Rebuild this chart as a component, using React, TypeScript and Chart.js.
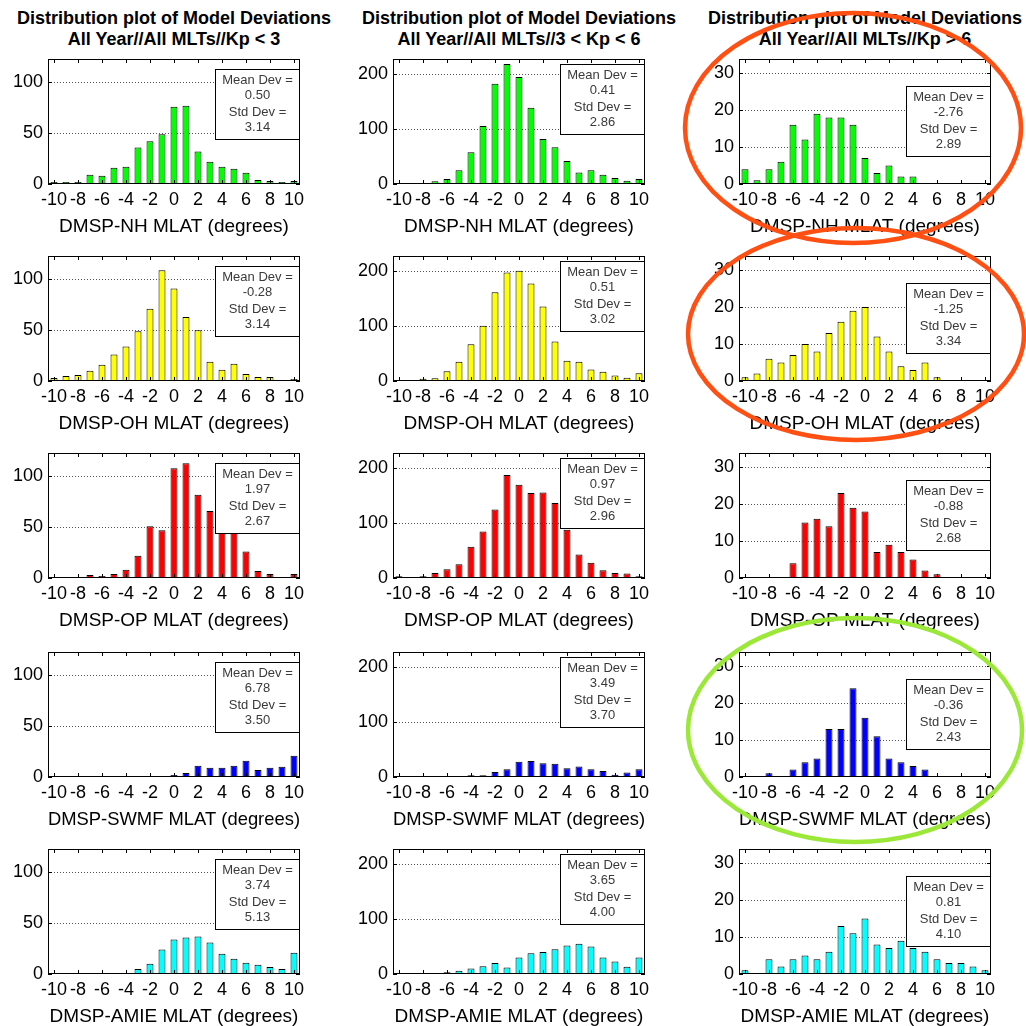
import React, { useEffect, useRef } from 'react';
import { Chart, registerables } from 'chart.js';

Chart.register(...registerables);

// ---------------- data ----------------
const BINS = ['-10', '-9', '-8', '-7', '-6', '-5', '-4', '-3', '-2', '-1', '0', '1', '2', '3', '4', '5', '6', '7', '8', '9', '10'];
const X_TICK_LABELS = ['-10', '-8', '-6', '-4', '-2', '0', '2', '4', '6', '8', '10'];

const COLUMN_TITLE_1 = 'Distribution plot of Model Deviations';
const COLUMN_TITLE_2 = ['All Year//All MLTs//Kp < 3', 'All Year//All MLTs//3 < Kp < 6', 'All Year//All MLTs//Kp > 6'];
const ROW_AXIS_TITLES = ['DMSP-NH MLAT (degrees)', 'DMSP-OH MLAT (degrees)', 'DMSP-OP MLAT (degrees)', 'DMSP-SWMF MLAT (degrees)', 'DMSP-AMIE MLAT (degrees)'];

const Y_MAX = [123, 228, 33.8];
const Y_STEP = [50, 100, 10];
const Y_TICKS = [[0, 50, 100], [0, 100, 200], [0, 10, 20, 30]];

const NH_KP_LT3 = [2, 2, 2, 9, 8, 16, 17, 36, 42, 49, 76, 77, 32, 22, 17, 15, 11, 4, 3, 2, 3];
const NH_KP_3TO6 = [0, 0, 1, 5, 9, 25, 58, 106, 183, 219, 195, 139, 82, 67, 42, 21, 25, 17, 11, 6, 9];
const NH_KP_GT6 = [4, 1, 4, 6, 16, 12, 19, 18, 18, 16, 7, 3, 5, 2, 2, 0, 0, 0, 0, 0, 0];

const OH_KP_LT3 = [3, 5, 6, 10, 16, 26, 34, 49, 71, 109, 91, 63, 50, 19, 11, 17, 7, 4, 4, 1, 2];
const OH_KP_3TO6 = [1, 2, 4, 5, 18, 35, 67, 101, 162, 198, 201, 178, 136, 72, 37, 35, 21, 17, 10, 6, 14];
const OH_KP_GT6 = [1, 2, 6, 5, 7, 10, 8, 13, 16, 19, 20, 12, 8, 4, 3, 5, 1, 0, 0, 0, 0];

const OP_KP_LT3 = [0, 0, 0, 3, 2, 4, 8, 22, 51, 47, 108, 113, 82, 66, 56, 47, 26, 7, 4, 0, 4];
const OP_KP_3TO6 = [3, 0, 3, 9, 16, 25, 57, 85, 125, 188, 170, 155, 156, 137, 88, 43, 28, 14, 9, 8, 3];
const OP_KP_GT6 = [0, 0, 0, 0, 4, 15, 16, 14, 23, 19, 18, 7, 9, 7, 5, 2, 1, 0, 0, 0, 0];

const SWMF_KP_LT3 = [0, 0, 0, 0, 0, 0, 0, 0, 0, 1, 2, 4, 11, 9, 9, 11, 16, 7, 9, 10, 21];
const SWMF_KP_3TO6 = [0, 0, 0, 0, 0, 1, 3, 3, 9, 14, 28, 29, 25, 24, 16, 19, 14, 11, 4, 8, 14];
const SWMF_KP_GT6 = [0, 0, 1, 0, 2, 4, 5, 13, 13, 24, 16, 11, 5, 4, 3, 2, 0, 0, 0, 0, 0];

const AMIE_KP_LT3 = [0, 0, 0, 0, 1, 1, 1, 5, 10, 24, 34, 36, 37, 31, 20, 15, 11, 9, 7, 5, 21];
const AMIE_KP_3TO6 = [0, 0, 0, 1, 3, 6, 10, 14, 20, 12, 30, 38, 40, 45, 52, 55, 50, 30, 23, 13, 30];
const AMIE_KP_GT6 = [1, 0, 4, 2, 4, 5, 4, 6, 13, 11, 15, 8, 7, 9, 7, 6, 4, 3, 3, 2, 1];

const MEAN_DEV = [
  ['0.50', '0.41', '-2.76'],
  ['-0.28', '0.51', '-1.25'],
  ['1.97', '0.97', '-0.88'],
  ['6.78', '3.49', '-0.36'],
  ['3.74', '3.65', '0.81'],
];
const STD_DEV = [
  ['3.14', '2.86', '2.89'],
  ['3.14', '3.02', '3.34'],
  ['2.67', '2.96', '2.68'],
  ['3.50', '3.70', '2.43'],
  ['5.13', '4.00', '4.10'],
];

const SERIES = [
  [NH_KP_LT3, NH_KP_3TO6, NH_KP_GT6],
  [OH_KP_LT3, OH_KP_3TO6, OH_KP_GT6],
  [OP_KP_LT3, OP_KP_3TO6, OP_KP_GT6],
  [SWMF_KP_LT3, SWMF_KP_3TO6, SWMF_KP_GT6],
  [AMIE_KP_LT3, AMIE_KP_3TO6, AMIE_KP_GT6],
];

// ---------------- style / layout ----------------
const ROW_COLORS = ['#00FF00', '#FFFF00', '#FF0000', '#0000FF', '#00FFFF'];
const FONT = "'Liberation Sans', Arial, Helvetica, sans-serif";
const AXES_LEFT = [48, 393, 739];
const AXES_TOP = [59, 256, 453, 652, 849];
const AXES_W = 252;
const AXES_H = 125;
const Y_AXIS_W = 48;
const PAD_TOP = 6;
const PAD_RIGHT = 16;
const X_AXIS_H = 54;
const BOX_OFFSET = [10, 5, 27];
const BOX_W = 85;
const BOX_H = 70;

function Panel({ row, col }: { row: number; col: number }) {
  const ref = useRef<HTMLCanvasElement>(null);
  const width = Y_AXIS_W + AXES_W + PAD_RIGHT;
  const height = PAD_TOP + AXES_H + X_AXIS_H;

  useEffect(() => {
    const canvas = ref.current;
    if (!canvas) return;
    const values = SERIES[row][col];
    const yTicks = Y_TICKS[col];

    const framePlugin = {
      id: 'frameAndStats',
      afterDatasetsDraw(chart: any) {
        const { ctx, chartArea: a } = chart;
        const xs = chart.scales.x;
        const ys = chart.scales.y;
        ctx.save();
        ctx.strokeStyle = '#000';
        ctx.lineWidth = 1;
        ctx.setLineDash([]);
        // inward tick marks (box on)
        ctx.beginPath();
        BINS.forEach((b, i) => {
          if (X_TICK_LABELS.includes(b)) {
            const px = Math.round(xs.getPixelForValue(i)) + 0.5;
            ctx.moveTo(px, a.bottom);
            ctx.lineTo(px, a.bottom - 4);
            ctx.moveTo(px, a.top);
            ctx.lineTo(px, a.top + 4);
          }
        });
        yTicks.forEach((v) => {
          const py = Math.round(ys.getPixelForValue(v)) + 0.5;
          ctx.moveTo(a.left, py);
          ctx.lineTo(a.left + 4, py);
          ctx.moveTo(a.right, py);
          ctx.lineTo(a.right - 4, py);
        });
        ctx.stroke();

        // stats box
        const bx = Math.round(a.right - BOX_W);
        const by = Math.round(a.top + BOX_OFFSET[col]);
        ctx.fillStyle = '#fff';
        ctx.fillRect(bx, by, BOX_W, BOX_H);
        ctx.strokeRect(bx + 0.5, by + 0.5, BOX_W - 1, BOX_H);
        ctx.fillStyle = '#3a3a3a';
        ctx.font = `13px ${FONT}`;
        ctx.textAlign = 'center';
        ctx.textBaseline = 'middle';
        const lines = ['Mean Dev =', MEAN_DEV[row][col], 'Std Dev =', STD_DEV[row][col]];
        const offs = [11, 26.5, 43, 58.5];
        lines.forEach((t, i) => ctx.fillText(t, bx + BOX_W / 2, by + offs[i]));

        // axes frame
        const l = Math.round(a.left);
        const t = Math.round(a.top);
        const w = Math.round(a.right - a.left);
        const h = Math.round(a.bottom - a.top);
        ctx.strokeRect(l + 0.5, t + 0.5, w - 1, h - 1);
        ctx.restore();
      },
    };

    const chart = new Chart(canvas, {
      type: 'bar',
      data: {
        labels: BINS,
        datasets: [
          {
            data: values,
            backgroundColor: ROW_COLORS[row],
            borderColor: '#000',
            borderWidth: 1,
            barPercentage: 0.58,
            categoryPercentage: 1,
          },
        ],
      },
      options: {
        responsive: false,
        maintainAspectRatio: false,
        animation: false,
        devicePixelRatio: 1,
        layout: { padding: { top: PAD_TOP, right: PAD_RIGHT, left: 0, bottom: 0 } },
        plugins: {
          legend: { display: false },
          tooltip: { enabled: false },
          title: { display: false },
        },
        scales: {
          x: {
            type: 'category',
            offset: true,
            grid: { display: false, drawTicks: false },
            border: { display: false },
            ticks: {
              autoSkip: false,
              maxRotation: 0,
              minRotation: 0,
              padding: 5,
              color: '#000',
              font: { family: FONT, size: 18 },
              callback: (_v: any, i: number) => (X_TICK_LABELS.includes(BINS[i]) ? BINS[i] : ''),
            },
            title: {
              display: true,
              text: ROW_AXIS_TITLES[row],
              color: '#000',
              font: { family: FONT, size: 19 },
              padding: { top: 0, bottom: 0 },
            },
            afterFit: (s: any) => {
              s.height = X_AXIS_H;
              s.paddingLeft = 0;
              s.paddingRight = 0;
            },
          },
          y: {
            min: 0,
            max: Y_MAX[col],
            grid: {
              drawTicks: false,
              lineWidth: 1,
              color: (c: any) =>
                c.tick && c.tick.value !== 0 && yTicks.includes(c.tick.value) ? '#555' : 'rgba(0,0,0,0)',
            },
            border: { display: false, dash: [1, 2] },
            ticks: {
              stepSize: Y_STEP[col],
              includeBounds: false,
              padding: 5,
              color: '#000',
              font: { family: FONT, size: 18 },
              callback: (v: any) => (yTicks.includes(Number(v)) ? String(v) : ''),
            },
            afterFit: (s: any) => {
              s.width = Y_AXIS_W;
              s.paddingTop = 0;
              s.paddingBottom = 0;
            },
          },
        },
      },
      plugins: [framePlugin],
    } as any);

    return () => chart.destroy();
  }, [row, col]);

  return (
    <canvas
      ref={ref}
      width={width}
      height={height}
      style={{
        position: 'absolute',
        left: AXES_LEFT[col] - Y_AXIS_W,
        top: AXES_TOP[row] - PAD_TOP,
        width,
        height,
      }}
    />
  );
}

export default function App() {
  return (
    <div
      style={{
        position: 'absolute',
        left: 0,
        top: 0,
        width: 1026,
        height: 1026,
        background: '#fff',
        overflow: 'hidden',
        fontFamily: FONT,
      }}
    >
      {COLUMN_TITLE_2.map((t2, c) => (
        <div
          key={'title' + c}
          style={{
            position: 'absolute',
            left: AXES_LEFT[c] + AXES_W / 2 - 200,
            width: 400,
            top: 8,
            textAlign: 'center',
            fontWeight: 'bold',
            fontSize: 18,
            lineHeight: '21px',
            color: '#000',
            whiteSpace: 'nowrap',
          }}
        >
          <div>{COLUMN_TITLE_1}</div>
          <div>{t2}</div>
        </div>
      ))}
      {SERIES.map((rowSeries, r) =>
        rowSeries.map((_s, c) => <Panel key={r + '-' + c} row={r} col={c} />)
      )}
      <svg
        width={1026}
        height={1026}
        style={{ position: 'absolute', left: 0, top: 0, pointerEvents: 'none' }}
      >
        <ellipse cx={853} cy={128} rx={168} ry={115} fill="none" stroke="#FF4F12" strokeWidth={4.5} />
        <ellipse cx={856} cy={334} rx={168} ry={106} fill="none" stroke="#FF4F12" strokeWidth={4.5} />
        <ellipse cx={855} cy={730} rx={167} ry={112} fill="none" stroke="#9BE838" strokeWidth={4.5} />
      </svg>
    </div>
  );
}
